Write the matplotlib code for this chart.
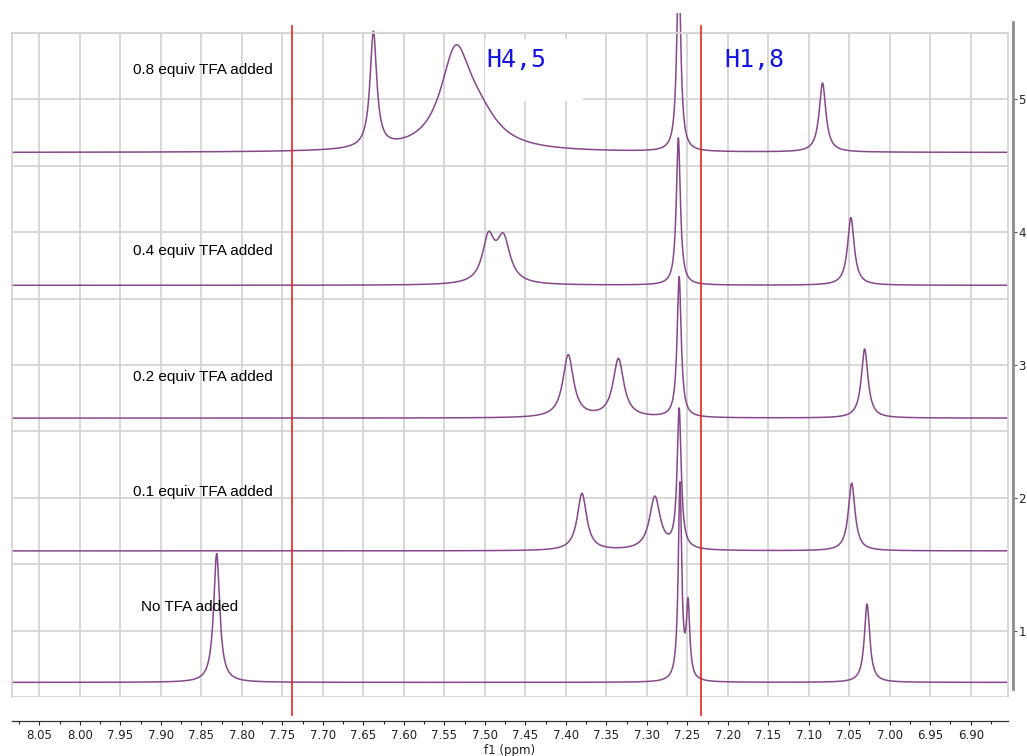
import numpy as np
import matplotlib
matplotlib.use("Agg")
import matplotlib.pyplot as plt
from matplotlib.ticker import MultipleLocator, FormatStrFormatter
from matplotlib.transforms import Bbox, TransformedBbox
from matplotlib.patches import Rectangle

# spectrum labels, bottom to top
labels = ["No TFA added", "0.1 equiv TFA added", "0.2 equiv TFA added",
          "0.4 equiv TFA added", "0.8 equiv TFA added"]
baselines = [0.61, 1.60, 2.60, 3.60, 4.60]
label_x = [7.925, 7.934, 7.934, 7.934, 7.934]
label_y = [1.18, 2.04, 2.91, 3.86, 5.22]

# peaks: (shift ppm, height, width ppm)
peaks_none = [(7.831, 0.97, 0.009), (7.259, 1.48, 0.005), (7.249, 0.55, 0.005),
              (7.028, 0.59, 0.008)]
peaks_01 = [(7.380, 0.43, 0.014), (7.290, 0.40, 0.016), (7.260, 1.05, 0.006),
            (7.047, 0.51, 0.010)]
peaks_02 = [(7.397, 0.47, 0.016), (7.335, 0.44, 0.016), (7.260, 1.06, 0.006),
            (7.031, 0.52, 0.010)]
peaks_04 = [(7.4955, 0.33, 0.018), (7.477, 0.33, 0.020), (7.261, 1.11, 0.006),
            (7.048, 0.51, 0.010)]
peaks_08 = [(7.6375, 0.87, 0.010), (7.536, 0.70, 0.045), (7.508, 0.20, 0.060),
            (7.2605, 1.40, 0.006), (7.083, 0.52, 0.010)]
all_peaks = [peaks_none, peaks_01, peaks_02, peaks_04, peaks_08]

red_lines = [7.738, 7.233]
x_left, x_right = 8.0837, 6.854


def spectrum(x, peaks):
    y = np.zeros_like(x)
    for c, h, w in peaks:
        y += h / (1 + (2 * (x - c) / w) ** 2)
    return y


fig = plt.figure(figsize=(10.27, 7.56), dpi=100)
ax = fig.add_axes([12 / 1027, 59 / 756, 996 / 1027, 664 / 756])
ax.set_xlim(x_left, x_right)
ax.set_ylim(0.5, 5.5)

# right-hand scale
ax2 = ax.twinx()
ax2.set_ylim(0.5, 5.5)
ax2.yaxis.set_major_locator(MultipleLocator(1))
for s in ['top', 'left', 'bottom']:
    ax2.spines[s].set_visible(False)
ax2.spines['right'].set_position(('outward', 3.6))
ax2.spines['right'].set_color('#8c8c8c')
ax2.spines['right'].set_linewidth(2)
ax2.spines['right'].set_bounds(0.56, 5.583)
ax2.tick_params(axis='y', length=3, width=0.8, labelsize=8.5, colors='#222222',
                pad=1, left=False, labelleft=False)
ax2.tick_params(axis='y', color='#555555')

grid_c = '#d4d4d4'
ax.xaxis.set_major_locator(MultipleLocator(0.05))
ax.xaxis.set_minor_locator(MultipleLocator(0.025))
ax.xaxis.set_major_formatter(FormatStrFormatter('%.2f'))
ax.yaxis.set_major_locator(MultipleLocator(0.5))
ax.grid(True, which='major', color=grid_c, lw=1.3)
ax.tick_params(axis='y', which='both', left=False, right=False,
               labelleft=False, labelright=False)
ax.tick_params(axis='x', which='major', length=3, width=0.8, labelsize=8.5,
               colors='#222222', pad=3)
ax.tick_params(axis='x', which='minor', length=2, width=0.8, colors='#222222')
for s in ['top', 'left', 'right']:
    ax.spines[s].set_color(grid_c)
    ax.spines[s].set_linewidth(1.3)
ax.spines['bottom'].set_position(('outward', 17.3))
ax.spines['bottom'].set_color('#333333')
ax.spines['bottom'].set_linewidth(0.9)
ax.set_xlabel('f1 (ppm)', fontsize=8.5, color='#222222')
ax.xaxis.set_label_coords(0.5, -0.0705)

x = np.linspace(x_left, x_right, 5000)
clip = TransformedBbox(Bbox([[x_left, 0.5], [x_right, 5.65]]), ax.transData)
for peaks, base, lab, lx, ly in zip(all_peaks, baselines, labels, label_x, label_y):
    line, = ax.plot(x, base + spectrum(x, peaks), color='#86488a', lw=1.1, zorder=2)
    line.set_clip_box(clip)
    ax.text(lx, ly, lab, fontsize=11, family='Liberation Sans', va='center',
            ha='left', zorder=5)

for r in red_lines:
    ax.plot([r, r], [0.365, 5.55], color='#e8231f', lw=1.2, clip_on=False, zorder=4)

# peak assignments
hx, hy = 7.4983, 5.293
ax.add_patch(Rectangle((hx + 0.002, hy - 0.305), -0.122, 0.47, facecolor='white',
                       edgecolor='none', zorder=3))
ax.text(hx, hy, 'H4,5', fontsize=18, family='DejaVu Sans Mono', color='#1414e6',
        va='center', ha='left', zorder=5)
ax.text(7.204, hy, 'H1,8', fontsize=18, family='DejaVu Sans Mono', color='#1414e6',
        va='center', ha='left', zorder=5)

fig.savefig('out.png', dpi=100)
